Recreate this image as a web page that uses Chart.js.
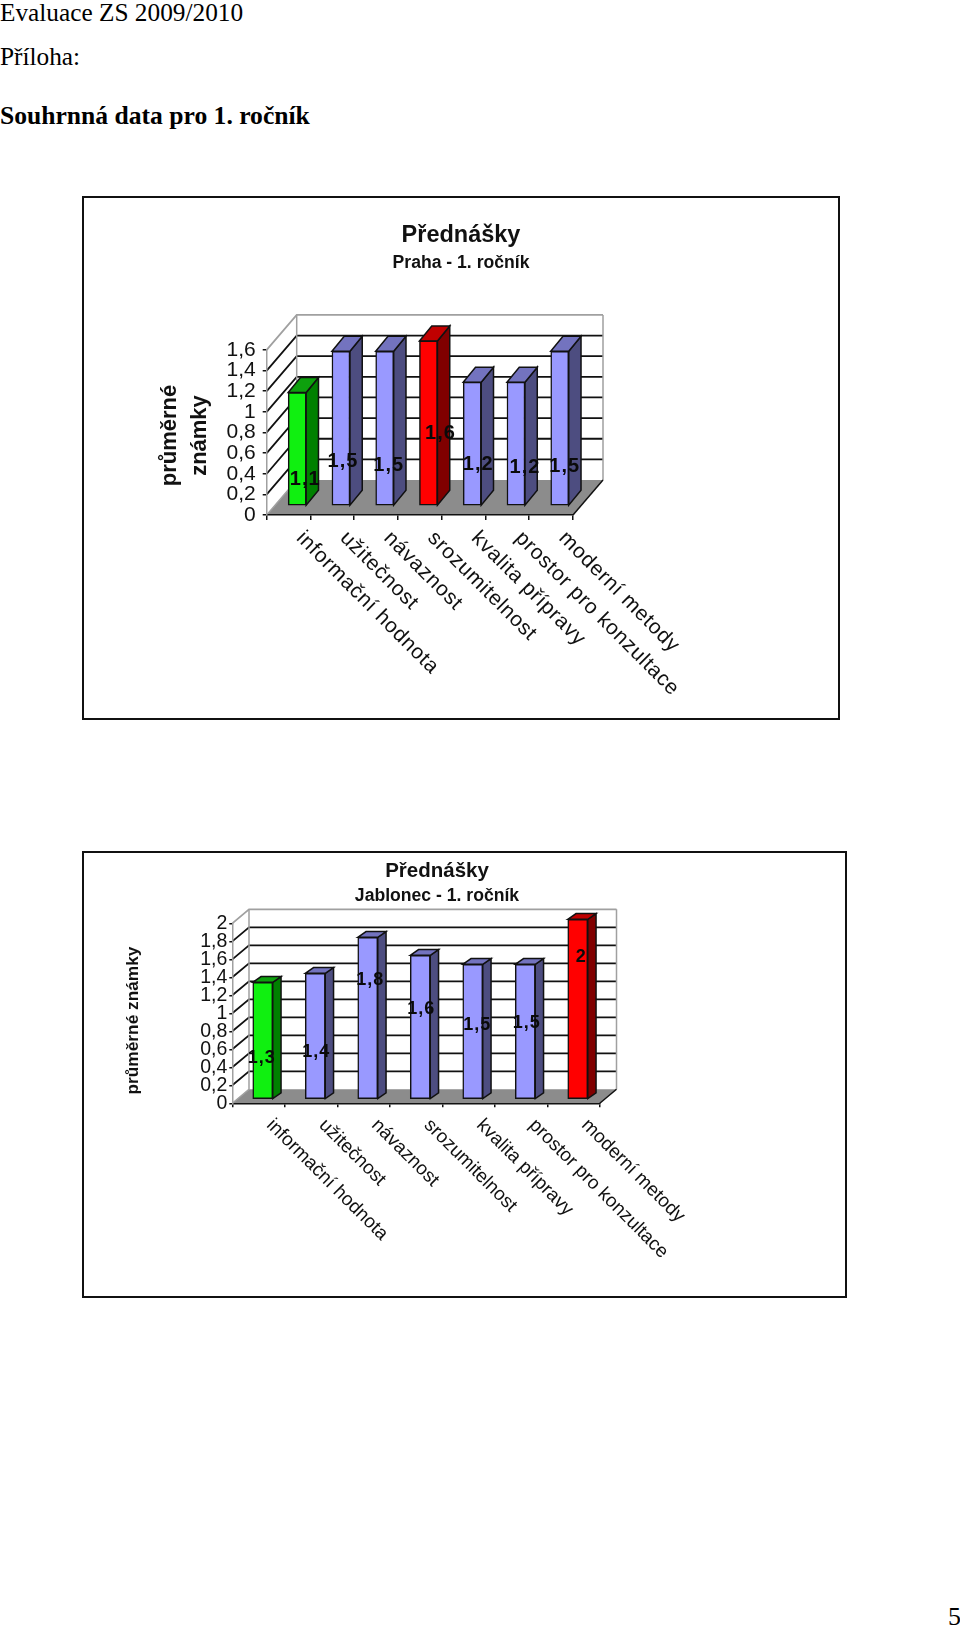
<!DOCTYPE html>
<html lang="cs">
<head>
<meta charset="utf-8">
<title>Evaluace ZS 2009/2010</title>
<script src="https://cdn.jsdelivr.net/npm/chart.js@4"></script>
<style>
    html, body { margin: 0; padding: 0; background: #fff; }
    body { position: relative; width: 960px; height: 1627px; overflow: hidden; }
    .line { position: absolute; left: 0; white-space: nowrap; color: #000;
            font: 25.3px/30px "Liberation Serif", serif; }
    .frame { position: absolute; box-sizing: border-box; border: 2px solid #111; }
    canvas { position: absolute; }
</style>
</head>
<body>

<div class="line" style="top:-3px">Evaluace ZS 2009/2010</div>
<div class="line" style="top:41px">Příloha:</div>
<div class="line" style="top:101px;font-weight:bold;font-size:25.6px">Souhrnná data pro 1. ročník</div>
<div class="line" style="top:1602px;left:948px;font-size:26px">5</div>

<div class="frame" style="left:82px;top:196px;width:758px;height:524px"></div>
<canvas id="praha" width="752" height="520" style="left:85px;top:199px"></canvas>

<div class="frame" style="left:82px;top:851px;width:765px;height:447px"></div>
<canvas id="jablonec" width="704" height="441" style="left:85px;top:854px"></canvas>

<script>
var categories = ['informační hodnota', 'užitečnost', 'návaznost', 'srozumitelnost', 'kvalita přípravy', 'prostor pro konzultace', 'moderní metody'];
var prahaValues = [1.1, 1.5, 1.5, 1.6, 1.2, 1.2, 1.5];
var jablonecValues = [1.3, 1.4, 1.8, 1.6, 1.5, 1.5, 2];
var prahaTones = ['green', 'blue', 'blue', 'red', 'blue', 'blue', 'blue'];
var jablonecTones = ['green', 'blue', 'blue', 'blue', 'blue', 'blue', 'red'];

// front, side and top colour of a bar
var tones = {
    green: ['#10f010', '#008000', '#0da00d'],
    blue: ['#9999ff', '#4d4d80', '#7373bf'],
    red: ['#ff0000', '#800000', '#c00000']
};

function comma(value) {
    return String(Math.round(value * 10) / 10).replace('.', ',');
}

function poly(ctx, fill, stroke, width, points) {
    ctx.beginPath();
    points.forEach(function (p, i) {
        if (i === 0) ctx.moveTo(p[0], p[1]); else ctx.lineTo(p[0], p[1]);
    });
    ctx.closePath();
    if (fill) { ctx.fillStyle = fill; ctx.fill(); }
    if (stroke) { ctx.strokeStyle = stroke; ctx.lineWidth = width; ctx.stroke(); }
}

// Excel style box: floor, walls, side faces, rotated category names, value labels
function boxPlugin(cfg) {
    return {
        id: 'box3d',
        beforeDraw: function (chart) {
            var ctx = chart.ctx, a = chart.chartArea, y = chart.scales.y;
            var dx = cfg.wall[0], dy = cfg.wall[1];
            var floorY = y.getPixelForValue(0);
            ctx.save();
            poly(ctx, '#8c8c8c', null, 0, [[a.left, floorY], [a.right, floorY], [a.right + dx, floorY + dy], [a.left + dx, floorY + dy]]);
            y.ticks.forEach(function (t, i) {
                if (t.value === 0) return;
                var py = y.getPixelForValue(t.value);
                var top = i === y.ticks.length - 1;
                ctx.beginPath();
                ctx.moveTo(a.left, py);
                ctx.lineTo(a.left + dx, py + dy);
                ctx.lineTo(a.right + dx, py + dy);
                ctx.strokeStyle = top ? '#a0a0a0' : '#111';
                ctx.lineWidth = 1.8;
                ctx.stroke();
            });
            var topY = y.getPixelForValue(y.max) + dy;
            ctx.strokeStyle = '#a0a0a0';
            ctx.lineWidth = 1.5;
            ctx.beginPath();
            ctx.moveTo(a.left + dx, topY); ctx.lineTo(a.left + dx, floorY + dy);
            ctx.lineTo(a.left, floorY);
            ctx.moveTo(a.right + dx, topY); ctx.lineTo(a.right + dx, floorY + dy);
            ctx.stroke();
            ctx.strokeStyle = '#111';
            ctx.beginPath();
            ctx.moveTo(a.right, floorY); ctx.lineTo(a.right + dx, floorY + dy);
            ctx.stroke();
            ctx.restore();
        },
        beforeDatasetsDraw: function (chart) {
            var ctx = chart.ctx;
            var ox = cfg.barShift[0], oy = cfg.barShift[1];
            var bx = cfg.barDepth[0], by = cfg.barDepth[1];
            ctx.save();
            chart.getDatasetMeta(0).data.forEach(function (el, i) {
                var tone = tones[cfg.tones[i]];
                var l = el.x - el.width / 2 + ox, r = el.x + el.width / 2 + ox;
                var t = el.y + oy, b = el.base + oy;
                poly(ctx, tone[1], '#111', 1.5, [[r, t], [r + bx, t + by], [r + bx, b + by], [r, b]]);
                poly(ctx, tone[2], '#111', 1.5, [[l, t], [l + bx, t + by], [r + bx, t + by], [r, t]]);
            });
            ctx.restore();
            // bars are drawn by the library, just moved back into the box
            ctx.save();
            ctx.translate(ox, oy);
        },
        afterDatasetsDraw: function (chart) {
            var ctx = chart.ctx;
            ctx.restore();
            ctx.save();
            ctx.fillStyle = '#0a0a0a';
            ctx.font = cfg.valueFont;
            ctx.letterSpacing = cfg.valueSpacing;
            ctx.textAlign = 'center';
            ctx.textBaseline = 'middle';
            chart.getDatasetMeta(0).data.forEach(function (el, i) {
                var n = cfg.labelNudge[i];
                ctx.fillText(comma(cfg.values[i]), el.x + cfg.barShift[0] + n[0], (el.y + el.base) / 2 + cfg.barShift[1] + n[1]);
            });
            ctx.restore();

            ctx.save();
            ctx.fillStyle = '#111';
            ctx.font = cfg.categoryFont;
            ctx.letterSpacing = cfg.categorySpacing;
            ctx.textAlign = 'left';
            ctx.textBaseline = 'middle';
            var xs = chart.scales.x;
            categories.forEach(function (name, i) {
                ctx.save();
                ctx.translate(xs.getPixelForTick(i) + cfg.categoryStart[0], xs.top + cfg.categoryStart[1]);
                ctx.rotate(Math.PI / 4);
                ctx.fillText(name, 0, 0);
                ctx.restore();
            });
            ctx.restore();
        }
    };
}

function makeChart(id, cfg) {
    return new Chart(document.getElementById(id), {
        type: 'bar',
        data: {
            labels: categories,
            datasets: [{
                data: cfg.values,
                backgroundColor: cfg.tones.map(function (t) { return tones[t][0]; }),
                borderColor: '#111',
                borderWidth: 1.5,
                borderSkipped: false,
                barThickness: cfg.barWidth,
                clip: false
            }]
        },
        options: {
            responsive: false,
            animation: false,
            scales: {
                x: {
                    offset: true,
                    afterFit: function (s) { s.height = cfg.xHeight; },
                    grid: { drawOnChartArea: false, color: '#111', tickLength: cfg.xTick, lineWidth: 1.5 },
                    border: { color: '#111', width: 1.5 },
                    ticks: { display: false, autoSkip: false }
                },
                y: {
                    min: 0,
                    max: cfg.max,
                    afterFit: function (s) { s.width = cfg.yWidth; },
                    title: {
                        display: true,
                        text: cfg.yTitle,
                        color: '#111',
                        font: { family: 'Liberation Sans', size: cfg.yTitleSize, weight: 'bold', lineHeight: cfg.yTitleLine },
                        padding: { top: cfg.yTitlePad, bottom: 0 }
                    },
                    grid: { drawOnChartArea: false, color: '#111', tickLength: cfg.yTick, lineWidth: 1.5 },
                    border: { color: '#a0a0a0', width: 1.5 },
                    ticks: {
                        stepSize: 0.2,
                        autoSkip: false,
                        color: '#111',
                        padding: cfg.yPad,
                        font: { family: 'Liberation Sans', size: cfg.yFont, lineHeight: 1 },
                        callback: comma
                    }
                },
                // empty right axis only holds the plot away from the right side
                gap: {
                    position: 'right',
                    afterFit: function (s) { s.width = cfg.gap; },
                    grid: { display: false },
                    border: { display: false },
                    ticks: { display: false }
                }
            },
            plugins: {
                legend: { display: false },
                tooltip: { enabled: false },
                title: {
                    display: true,
                    text: 'Přednášky',
                    color: '#111',
                    font: { family: 'Liberation Sans', size: cfg.titleSize, weight: 'bold' },
                    padding: { top: cfg.titlePad, bottom: 0 }
                },
                subtitle: {
                    display: true,
                    text: cfg.subtitle,
                    color: '#111',
                    font: { family: 'Liberation Sans', size: 17.6, weight: 'bold' },
                    padding: { top: cfg.subPad[0], bottom: cfg.subPad[1] }
                }
            }
        },
        plugins: [boxPlugin(cfg)]
    });
}

makeChart('praha', {
    values: prahaValues, tones: prahaTones, max: 1.6,
    subtitle: 'Praha - 1. ročník',
    yTitle: ['průměrné ', 'známky '], yTitleSize: 22, yTitleLine: 1.36, yTitlePad: 70,
    titleSize: 23.5, titlePad: 22, subPad: [3.3, 76.3],
    yWidth: 181.7, xHeight: 204, gap: 264,
    xTick: 5, yTick: 4, yPad: 7, yFont: 21,
    wall: [30, -35], barWidth: 18, barShift: [8.6, -9], barDepth: [12.3, -15],
    valueFont: 'bold 20px "Liberation Sans"', valueSpacing: '1px',
    labelNudge: [[8, 31], [2, 33], [4, 37], [12, 10], [6, 21], [9, 24], [5, 38]],
    categoryFont: '21px "Liberation Sans"', categorySpacing: '0.67px', categoryStart: [11, 20]
});

makeChart('jablonec', {
    values: jablonecValues, tones: jablonecTones, max: 2,
    subtitle: 'Jablonec - 1. ročník',
    yTitle: 'průměrné známky   ', yTitleSize: 17.3, yTitleLine: 1.2, yTitlePad: 37.6,
    titleSize: 20.5, titlePad: 4.7, subPad: [2.2, 16.7],
    yWidth: 147.3, xHeight: 191.7, gap: 189.2,
    xTick: 4, yTick: 3, yPad: 2, yFont: 19.5,
    wall: [16.7, -14], barWidth: 20, barShift: [4.2, -4], barDepth: [8.3, -5.7],
    valueFont: 'bold 18px "Liberation Sans"', valueSpacing: '1px',
    labelNudge: [[-1, 18], [1, 16], [2.5, -38], [1, -18], [4.5, -6], [1.5, -8], [3.5, -52]],
    categoryFont: '19px "Liberation Sans"', categorySpacing: '0px', categoryStart: [11, 19]
});
</script>
</body>
</html>
